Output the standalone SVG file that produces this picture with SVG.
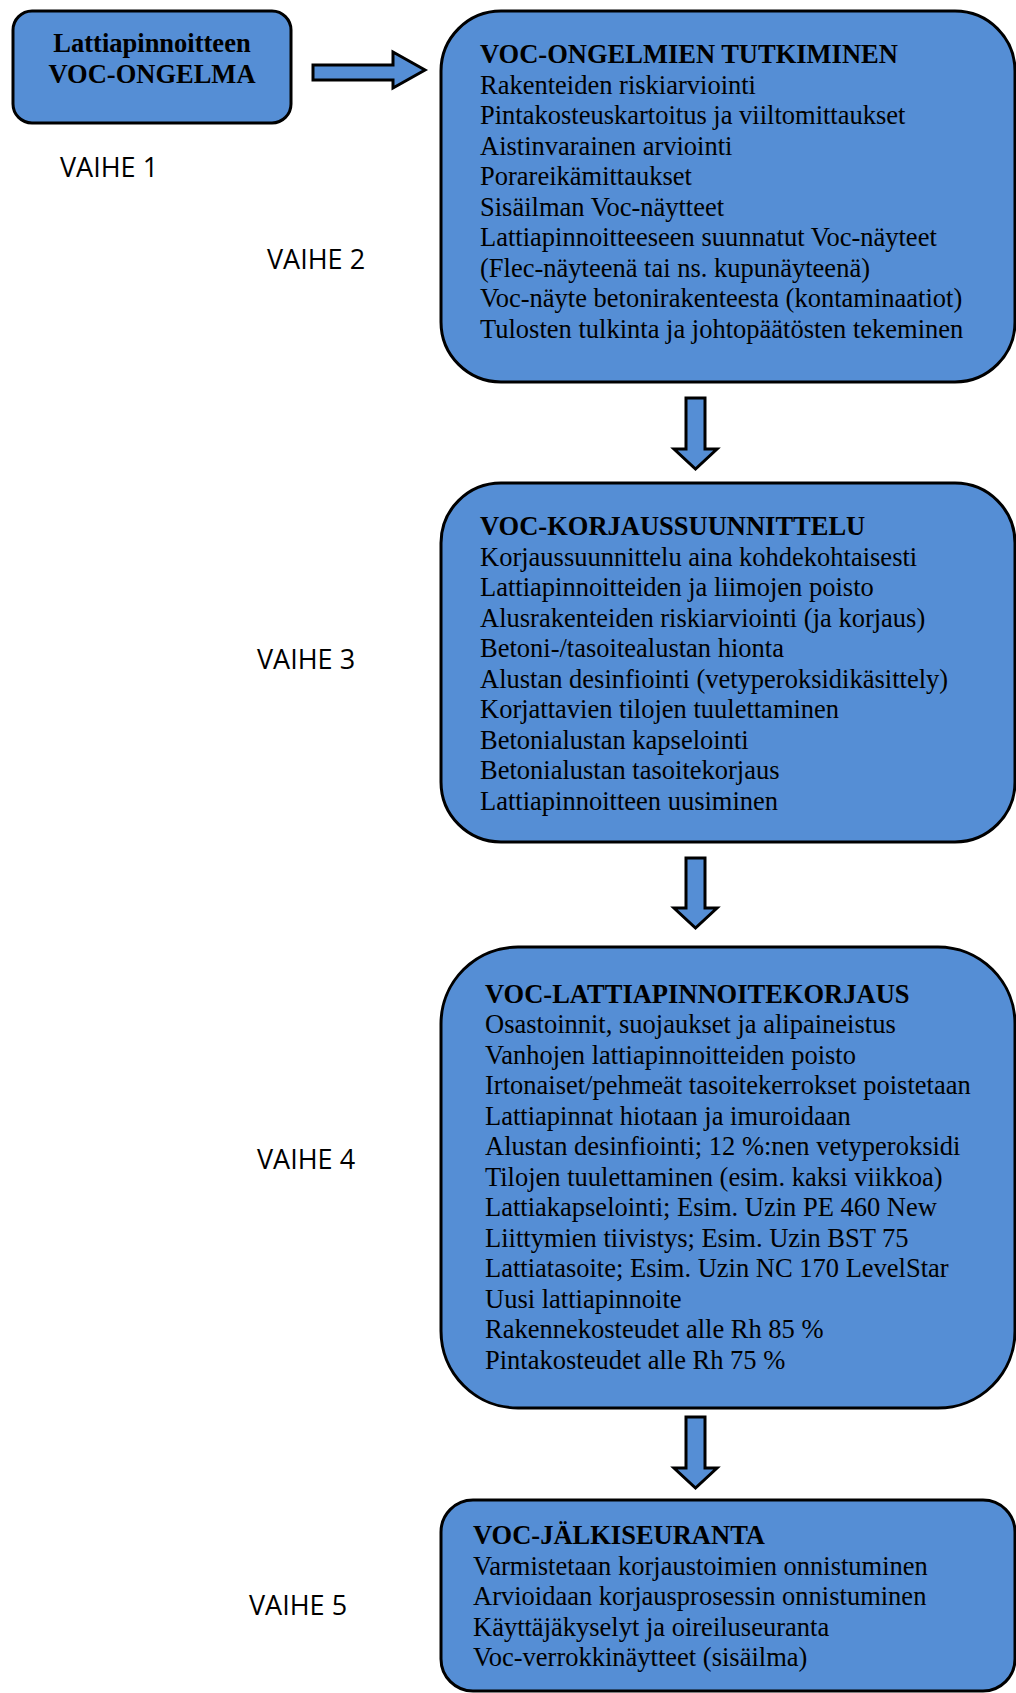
<svg xmlns="http://www.w3.org/2000/svg" width="1016" height="1693" viewBox="0 0 1016 1693">
<style>
.box{fill:#558ED5;stroke:#000;stroke-width:3}
.arr{fill:#558ED5;stroke:#000;stroke-width:3;stroke-linejoin:miter}
.t{font-family:"Liberation Serif","Times New Roman",serif;font-size:26.5px;fill:#000}
.b{font-weight:bold}
.v{font-family:"Open Sans","Liberation Sans",Arial,sans-serif;font-size:27px;fill:#000}
</style>
<rect width="1016" height="1693" fill="#fff"/>
<g id="connectors">
<polygon class="arr" points="313,65 393,65 393,52 425,70 393,88 393,80 313,80"/>
<polygon class="arr" points="686,398 705,398 705,449 717,449 695.5,469 674,449 686,449"/>
<polygon class="arr" points="686,858 705,858 705,908 717,908 695.5,928 674,908 686,908"/>
<polygon class="arr" points="686,1417 705,1417 705,1468 717,1468 695.5,1488 674,1468 686,1468"/>
</g>
<g id="node1">
<rect class="box" x="13" y="11" width="278" height="112" rx="19"/>
<text class="t b" x="152" y="52" text-anchor="middle">Lattiapinnoitteen</text>
<text class="t b" x="152" y="83" text-anchor="middle">VOC-ONGELMA</text>
</g>
<g id="node2">
<rect class="box" x="441" y="11" width="574" height="371" rx="60"/>
<text class="t b" x="480" y="63">VOC-ONGELMIEN TUTKIMINEN</text>
<text class="t" x="480" y="93.5">Rakenteiden riskiarviointi</text>
<text class="t" x="480" y="124">Pintakosteuskartoitus ja viiltomittaukset</text>
<text class="t" x="480" y="154.5">Aistinvarainen arviointi</text>
<text class="t" x="480" y="185">Porareikämittaukset</text>
<text class="t" x="480" y="215.5">Sisäilman Voc-näytteet</text>
<text class="t" x="480" y="246">Lattiapinnoitteeseen suunnatut Voc-näyteet</text>
<text class="t" x="480" y="276.5">(Flec-näyteenä tai ns. kupunäyteenä)</text>
<text class="t" x="480" y="307">Voc-näyte betonirakenteesta (kontaminaatiot)</text>
<text class="t" x="480" y="337.5">Tulosten tulkinta ja johtopäätösten tekeminen</text>
</g>
<g id="node3">
<rect class="box" x="441" y="483" width="574" height="359" rx="60"/>
<text class="t b" x="480" y="535">VOC-KORJAUSSUUNNITTELU</text>
<text class="t" x="480" y="565.5">Korjaussuunnittelu aina kohdekohtaisesti</text>
<text class="t" x="480" y="596">Lattiapinnoitteiden ja liimojen poisto</text>
<text class="t" x="480" y="626.5">Alusrakenteiden riskiarviointi (ja korjaus)</text>
<text class="t" x="480" y="657">Betoni-/tasoitealustan hionta</text>
<text class="t" x="480" y="687.5">Alustan desinfiointi (vetyperoksidikäsittely)</text>
<text class="t" x="480" y="718">Korjattavien tilojen tuulettaminen</text>
<text class="t" x="480" y="748.5">Betonialustan kapselointi</text>
<text class="t" x="480" y="779">Betonialustan tasoitekorjaus</text>
<text class="t" x="480" y="809.5">Lattiapinnoitteen uusiminen</text>
</g>
<g id="node4">
<rect class="box" x="441" y="947" width="574" height="461" rx="77"/>
<text class="t b" x="485" y="1003">VOC-LATTIAPINNOITEKORJAUS</text>
<text class="t" x="485" y="1033">Osastoinnit, suojaukset ja alipaineistus</text>
<text class="t" x="485" y="1063.5">Vanhojen lattiapinnoitteiden poisto</text>
<text class="t" x="485" y="1094">Irtonaiset/pehmeät tasoitekerrokset poistetaan</text>
<text class="t" x="485" y="1124.5">Lattiapinnat hiotaan ja imuroidaan</text>
<text class="t" x="485" y="1155">Alustan desinfiointi; 12 %:nen vetyperoksidi</text>
<text class="t" x="485" y="1185.5">Tilojen tuulettaminen (esim. kaksi viikkoa)</text>
<text class="t" x="485" y="1216">Lattiakapselointi; Esim. Uzin PE 460 New</text>
<text class="t" x="485" y="1246.5">Liittymien tiivistys; Esim. Uzin BST 75</text>
<text class="t" x="485" y="1277">Lattiatasoite; Esim. Uzin NC 170 LevelStar</text>
<text class="t" x="485" y="1307.5">Uusi lattiapinnoite</text>
<text class="t" x="485" y="1338">Rakennekosteudet alle Rh 85 %</text>
<text class="t" x="485" y="1368.5">Pintakosteudet alle Rh 75 %</text>
</g>
<g id="node5">
<rect class="box" x="441" y="1500" width="574" height="191" rx="32"/>
<text class="t b" x="473" y="1544">VOC-JÄLKISEURANTA</text>
<text class="t" x="473" y="1574.5">Varmistetaan korjaustoimien onnistuminen</text>
<text class="t" x="473" y="1605">Arvioidaan korjausprosessin onnistuminen</text>
<text class="t" x="473" y="1635.5">Käyttäjäkyselyt ja oireiluseuranta</text>
<text class="t" x="473" y="1666">Voc-verrokkinäytteet (sisäilma)</text>
</g>
<g id="labels">
<text class="v" x="60" y="177">VAIHE 1</text>
<text class="v" x="267" y="269">VAIHE 2</text>
<text class="v" x="257" y="669">VAIHE 3</text>
<text class="v" x="257" y="1169">VAIHE 4</text>
<text class="v" x="249" y="1615">VAIHE 5</text>
</g>
</svg>
